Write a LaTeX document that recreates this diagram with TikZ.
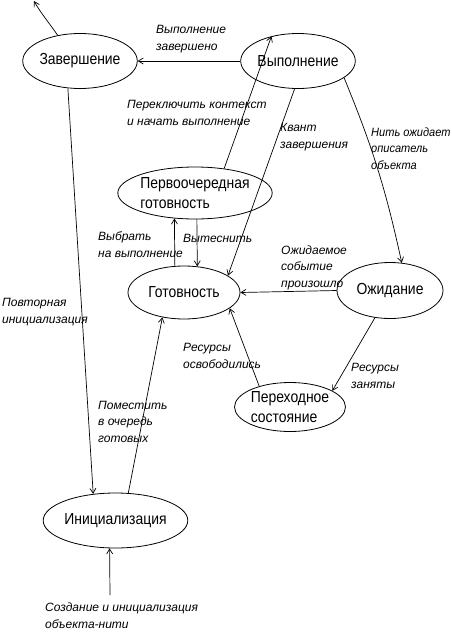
\documentclass[tikz,border=0pt]{standalone}
\usepackage{fontspec}
\setmainfont{Liberation Sans}
\newfontfamily\nodefont[FakeStretch=0.87]{Liberation Sans}
\newfontfamily\narrowlab[FakeStretch=0.92]{Liberation Sans}
\usetikzlibrary{shapes.geometric,arrows.meta}
\begin{document}
\begin{tikzpicture}[x=1pt,y=-1pt,
  st/.style={ellipse,draw,line width=0.8pt,inner sep=0pt,align=left,
    font=\nodefont\fontsize{16}{20}\selectfont},
  lab/.style={anchor=base west,inner sep=0pt,align=left,
    font=\itshape\fontsize{12}{16.5}\selectfont},
  tr/.style={draw,line width=0.7pt,-{Straight Barb[length=5pt,width=6pt]}}]
\useasboundingbox (0,0) rectangle (451,632);

% states
\node[st,minimum width=112pt,minimum height=55pt] (zav) at (80,61) {Завершение};
\node[st,minimum width=108pt,minimum height=55pt] (vyp) at (298,61) {Выполнение};
\node[st,minimum width=126pt,minimum height=52pt] (perv) at (195,193) {Первоочередная\\готовность};
\node[st,minimum width=112pt,minimum height=53pt] (got) at (184,292.5) {Готовность};
\node[st,minimum width=106pt,minimum height=56pt] (ozh) at (390,290.5) {Ожидание};
\node[st,minimum width=106pt,minimum height=49pt] (per) at (290,407) {Переходное\\состояние};
\node[st,minimum width=105pt,minimum height=55pt] (ini) at (115.5,520.5) {Инициализация};

\coordinate (topend) at (34,1);
\coordinate (create) at (110,595);

% transitions
\draw[tr] (zav.131) .. controls (50,24) and (40,12) .. (topend);
\draw[tr] (vyp.west) -- (zav.east);
\draw[tr] (perv.40) -- (vyp.137);
\draw[tr] (vyp.263) -- (got.21);
\draw[tr] (vyp.340) to[bend left=5] (ozh.67);
\draw[tr] (got.109) -- (perv.231);
\draw[tr] (perv.274.4) -- (got.63.3);
\draw[tr] (ozh.west) -- (got.east);
\draw[tr] (ozh.241) -- (per.21);
\draw[tr] (per.146) -- (got.341);
\draw[tr] (zav.246) -- (ini.130.6);
\draw[tr] (ini.65) -- (got.229.5);
\draw[tr] (create) -- (ini.258.6);

% labels (anchored at the baseline of their last line)
\node[lab] (l1) at (156,50) {Выполнение\\завершено};
\node[lab] (l2) at (127,125) {Переключить контекст\\и начать выполнение};
\node[lab] (l3) at (280,148) {Квант\\завершения};
\node[lab,font=\narrowlab\itshape\fontsize{12}{16.5}\selectfont] (l4) at (371,169) {Нить ожидает\\описатель\\объекта};
\node[lab] (l5) at (98,257) {Выбрать\\на выполнение};
\node[lab] (l6) at (183,242) {Вытеснить};
\node[lab] (l7) at (281,287) {Ожидаемое\\событие\\произошло};
\node[lab] (l8) at (351,388) {Ресурсы\\заняты};
\node[lab] (l9) at (183,368) {Ресурсы\\освободились};
\node[lab] (l10) at (2,323) {Повторная\\инициализация};
\node[lab] (l11) at (98,442) {Поместить\\в очередь\\готовых};
\node[lab] (l12) at (45,628) {Создание и инициализация\\объекта-нити};
\end{tikzpicture}
\end{document}
